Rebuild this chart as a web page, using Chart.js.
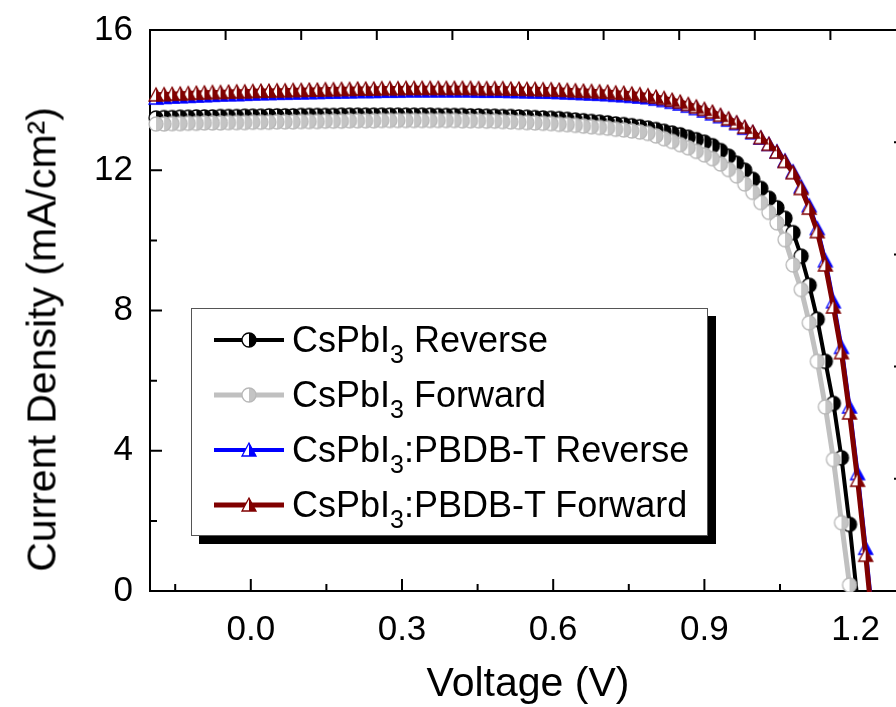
<!DOCTYPE html>
<html>
<head>
<meta charset="utf-8">
<script src="https://cdn.jsdelivr.net/npm/chart.js@4/dist/chart.umd.min.js"></script>
<style>
  html, body { margin: 0; padding: 0; background: #fff; overflow: hidden; }
  #wrap { position: relative; width: 896px; height: 707px; overflow: hidden;
          font-family: "Liberation Sans", Arial, sans-serif; color: #000; }
  #jv { position: absolute; left: 0; top: 0; }
  .axisTitle { position: absolute; width: 600px; height: 41px; font-size: 41px; line-height: 41px;
               text-align: center; white-space: nowrap; }
  #xTitle { left: 228px; top: 662px; }
  #yTitle { left: -258px; top: 319px; transform: rotate(-90deg); }
  #legend { position: absolute; left: 191px; top: 308px; width: 517px; height: 228px; box-sizing: border-box;
            border: 1px solid #555; background: #fff; box-shadow: 8px 8px 0 #000; padding-top: 3px; }
  .row { height: 55px; display: flex; align-items: center; font-size: 36px; line-height: 55px; white-space: nowrap; }
  .row canvas { margin-left: 22px; }
  .row span { margin-left: 8px; }
  .row sub { font-size: 25px; line-height: 0; vertical-align: -11px; }
</style>
</head>
<body>
<div id="wrap">
  <canvas id="jv" width="920" height="707"></canvas>
  <div id="xTitle" class="axisTitle">Voltage (V)</div>
  <div id="yTitle" class="axisTitle">Current Density (mA/cm²)</div>
  <div id="legend"></div>
</div>
<script>
// Voltage sweep (V)
const voltage = [
  -0.188, -0.172, -0.156, -0.140, -0.124, -0.108, -0.092, -0.076, -0.060, -0.044,
  -0.028, -0.012, 0.004, 0.020, 0.036, 0.052, 0.068, 0.084, 0.100, 0.116,
  0.132, 0.148, 0.164, 0.180, 0.196, 0.212, 0.228, 0.244, 0.260, 0.276,
  0.292, 0.308, 0.324, 0.340, 0.356, 0.372, 0.388, 0.404, 0.420, 0.436,
  0.452, 0.468, 0.484, 0.500, 0.516, 0.532, 0.548, 0.564, 0.580, 0.596,
  0.612, 0.628, 0.644, 0.660, 0.676, 0.692, 0.708, 0.724, 0.740, 0.756,
  0.772, 0.788, 0.804, 0.820, 0.836, 0.852, 0.868, 0.884, 0.900, 0.916,
  0.932, 0.948, 0.964, 0.980, 0.996, 1.012, 1.028, 1.044, 1.060, 1.076,
  1.092, 1.108, 1.124, 1.140, 1.156, 1.172, 1.188, 1.204, 1.220, 1.236
];

// Current density (mA/cm2) per scan
const csReverse = [
  13.49, 13.50, 13.50, 13.51, 13.51, 13.52, 13.52, 13.52, 13.53, 13.53,
  13.53, 13.54, 13.54, 13.54, 13.55, 13.55, 13.55, 13.55, 13.56, 13.56,
  13.56, 13.56, 13.56, 13.57, 13.57, 13.57, 13.57, 13.57, 13.57, 13.57,
  13.57, 13.57, 13.57, 13.57, 13.57, 13.56, 13.56, 13.56, 13.56, 13.55,
  13.55, 13.54, 13.54, 13.53, 13.53, 13.52, 13.51, 13.50, 13.49, 13.48,
  13.47, 13.45, 13.43, 13.41, 13.39, 13.37, 13.35, 13.32, 13.30, 13.27,
  13.24, 13.20, 13.16, 13.11, 13.06, 13.01, 12.94, 12.87, 12.80, 12.70,
  12.56, 12.40, 12.20, 12.00, 11.74, 11.48, 11.20, 10.93, 10.63, 10.22,
  9.55, 8.72, 7.75, 6.55, 5.35, 3.80, 1.90, -0.30
];
const csForward = [
  13.32, 13.32, 13.33, 13.33, 13.34, 13.34, 13.35, 13.35, 13.35, 13.36,
  13.36, 13.36, 13.37, 13.37, 13.37, 13.38, 13.38, 13.38, 13.39, 13.39,
  13.39, 13.40, 13.40, 13.40, 13.41, 13.41, 13.41, 13.41, 13.42, 13.42,
  13.42, 13.42, 13.42, 13.42, 13.42, 13.42, 13.42, 13.42, 13.41, 13.41,
  13.41, 13.40, 13.40, 13.39, 13.38, 13.37, 13.36, 13.35, 13.34, 13.33,
  13.31, 13.30, 13.28, 13.26, 13.24, 13.22, 13.20, 13.17, 13.15, 13.12,
  13.09, 13.05, 12.98, 12.90, 12.82, 12.73, 12.64, 12.54, 12.44, 12.33,
  12.18, 12.02, 11.84, 11.61, 11.37, 11.08, 10.80, 10.50, 10.02, 9.30,
  8.60, 7.65, 6.55, 5.25, 3.75, 1.95, 0.17, -1.90
];
const pbReverse = [
  14.06, 14.08, 14.09, 14.10, 14.11, 14.12, 14.13, 14.14, 14.15, 14.16,
  14.16, 14.17, 14.18, 14.19, 14.19, 14.20, 14.20, 14.21, 14.21, 14.22,
  14.22, 14.23, 14.23, 14.24, 14.24, 14.25, 14.25, 14.25, 14.26, 14.26,
  14.26, 14.27, 14.27, 14.27, 14.27, 14.27, 14.27, 14.27, 14.27, 14.27,
  14.26, 14.26, 14.26, 14.26, 14.25, 14.25, 14.24, 14.24, 14.23, 14.23,
  14.22, 14.21, 14.20, 14.19, 14.18, 14.17, 14.16, 14.14, 14.13, 14.11,
  14.09, 14.07, 14.03, 13.99, 13.94, 13.89, 13.83, 13.76, 13.69, 13.61,
  13.53, 13.43, 13.33, 13.20, 13.07, 12.92, 12.74, 12.53, 12.27, 11.96,
  11.53, 10.99, 10.34, 9.42, 8.25, 6.95, 5.25, 3.35, 1.22, -1.10
];
const pbForward = [
  14.15, 14.16, 14.17, 14.18, 14.19, 14.20, 14.21, 14.22, 14.22, 14.23,
  14.24, 14.24, 14.25, 14.26, 14.26, 14.27, 14.27, 14.28, 14.28, 14.29,
  14.29, 14.30, 14.30, 14.31, 14.31, 14.32, 14.32, 14.32, 14.33, 14.33,
  14.33, 14.34, 14.34, 14.34, 14.34, 14.34, 14.34, 14.34, 14.34, 14.34,
  14.33, 14.33, 14.33, 14.33, 14.32, 14.32, 14.31, 14.31, 14.30, 14.30,
  14.29, 14.28, 14.27, 14.26, 14.25, 14.24, 14.23, 14.21, 14.20, 14.18,
  14.16, 14.13, 14.09, 14.05, 14.00, 13.95, 13.88, 13.81, 13.74, 13.66,
  13.57, 13.47, 13.36, 13.23, 13.09, 12.93, 12.74, 12.52, 12.25, 11.93,
  11.48, 10.92, 10.25, 9.30, 8.10, 6.80, 5.08, 3.16, 1.02, -1.30
];

const seriesNames = [
  'CsPbI<sub>3</sub> Reverse',
  'CsPbI<sub>3</sub> Forward',
  'CsPbI<sub>3</sub>:PBDB-T Reverse',
  'CsPbI<sub>3</sub>:PBDB-T Forward'
];

const xTicks = [0, 0.3, 0.6, 0.9, 1.2];
const xMinorTicks = [-0.15, 0.15, 0.45, 0.75, 1.05];
const yTicks = [0, 4, 8, 12, 16];
const yMinorTicks = [2, 6, 10, 14];

const FONT = '"Liberation Sans", Arial, sans-serif';

// Half-filled Origin-style markers (left half white, right half coloured)
function makeMarker(shape, fill, edge) {
    const c = document.createElement('canvas');
    c.width = 18; c.height = 18;
    const g = c.getContext('2d');
    g.lineWidth = 1.3;
    g.strokeStyle = edge;
    if (shape === 'circle') {
        g.fillStyle = '#fff';
        g.beginPath(); g.arc(9, 9, 7, Math.PI / 2, Math.PI * 1.5); g.closePath(); g.fill();
        g.fillStyle = fill;
        g.beginPath(); g.arc(9, 9, 7, -Math.PI / 2, Math.PI / 2); g.closePath(); g.fill();
        g.beginPath(); g.arc(9, 9, 7, 0, Math.PI * 2); g.stroke();
    } else {
        g.fillStyle = '#fff';
        g.beginPath(); g.moveTo(9, 2); g.lineTo(2, 15); g.lineTo(9, 15); g.closePath(); g.fill();
        g.fillStyle = fill;
        g.beginPath(); g.moveTo(9, 2); g.lineTo(9, 15); g.lineTo(16, 15); g.closePath(); g.fill();
        g.beginPath(); g.moveTo(9, 2); g.lineTo(2, 15); g.lineTo(16, 15); g.closePath(); g.stroke();
    }
    return c;
}

const styles = [
    { color: '#000000', width: 4, marker: makeMarker('circle', '#000000', '#000000'), order: 4 },
    { color: '#c0c0c0', width: 5, marker: makeMarker('circle', '#c4c4c4', '#b8b8b8'), order: 3 },
    { color: '#0000ff', width: 4, marker: makeMarker('triangle', '#0000ff', '#0000ff'), order: 2 },
    { color: '#800000', width: 5, marker: makeMarker('triangle', '#800000', '#800000'), order: 1 }
];
const seriesData = [csReverse, csForward, pbReverse, pbForward];

// points listed from high to low voltage so the filled half of each marker stays on top
const datasets = seriesData.map((ys, i) => ({
    label: seriesNames[i].replace(/<\/?sub>/g, ''),
    data: ys.map((y, k) => ({ x: voltage[k], y: y })).reverse(),
    borderColor: styles[i].color,
    borderWidth: styles[i].width,
    pointStyle: styles[i].marker,
    pointRadius: 7,
    tension: 0,
    order: styles[i].order,
    clip: { left: 8, top: 8, right: 8, bottom: 1 }
}));

// Plot frame with inward ticks
const framePlugin = {
    id: 'frame',
    beforeDatasetsDraw(chart) {
        const { ctx, chartArea: a, scales: { x, y } } = chart;
        ctx.save();
        ctx.strokeStyle = '#000';
        ctx.lineWidth = 2;
        ctx.strokeRect(a.left, a.top, a.right - a.left, a.bottom - a.top);
        ctx.beginPath();
        xTicks.forEach(v => { const p = x.getPixelForValue(v); ctx.moveTo(p, a.bottom); ctx.lineTo(p, a.bottom - 12); });
        xMinorTicks.forEach(v => { const p = x.getPixelForValue(v); ctx.moveTo(p, a.bottom); ctx.lineTo(p, a.bottom - 7); });
        yTicks.forEach(v => { const p = y.getPixelForValue(v); ctx.moveTo(a.left, p); ctx.lineTo(a.left + 12, p); });
        yMinorTicks.forEach(v => { const p = y.getPixelForValue(v); ctx.moveTo(a.left, p); ctx.lineTo(a.left + 7, p); });
        // top and right axes carry their own divisions
        for (let i = 1; i < 10; i++) {
            const p = a.left + (a.right - a.left) * i / 10;
            ctx.moveTo(p, a.top); ctx.lineTo(p, a.top + 10);
        }
        for (let i = 1; i < 5; i++) {
            const p = a.bottom - (a.bottom - a.top) * i / 5;
            ctx.moveTo(a.right, p); ctx.lineTo(a.right - 12, p);
        }
        ctx.stroke();
        ctx.restore();
    }
};

new Chart(document.getElementById('jv'), {
    type: 'line',
    data: { datasets },
    plugins: [framePlugin],
    options: {
        responsive: false,
        animation: false,
        layout: { padding: { top: 30, right: 14, left: 0, bottom: 0 } },
        plugins: { legend: { display: false }, tooltip: { enabled: false } },
        scales: {
            x: {
                type: 'linear',
                min: -0.2,
                max: 1.3,
                grid: { display: false },
                border: { display: false },
                afterBuildTicks: s => { s.ticks = xTicks.map(v => ({ value: v })); },
                afterFit: s => { s.height = 116; },
                ticks: {
                    color: '#000',
                    padding: 10,
                    maxRotation: 0,
                    font: { family: FONT, size: 35 },
                    callback: v => v.toFixed(1)
                }
            },
            y: {
                min: 0,
                max: 16,
                grid: { display: false },
                border: { display: false },
                afterBuildTicks: s => { s.ticks = yTicks.map(v => ({ value: v })); },
                afterFit: s => { s.width = 150; },
                ticks: {
                    color: '#000',
                    padding: 9,
                    font: { family: FONT, size: 35 },
                    callback: v => String(v)
                }
            }
        }
    }
});

// Legend box
const legend = document.getElementById('legend');
seriesNames.forEach((name, i) => {
    const row = document.createElement('div');
    row.className = 'row';
    const sample = document.createElement('canvas');
    sample.width = 70; sample.height = 20;
    const g = sample.getContext('2d');
    g.strokeStyle = styles[i].color;
    g.lineWidth = styles[i].width;
    g.beginPath(); g.moveTo(0, 10); g.lineTo(70, 10); g.stroke();
    g.drawImage(styles[i].marker, 35 - 9, 10 - 9);
    const label = document.createElement('span');
    label.innerHTML = name;
    row.appendChild(sample);
    row.appendChild(label);
    legend.appendChild(row);
});
</script>
</body>
</html>
